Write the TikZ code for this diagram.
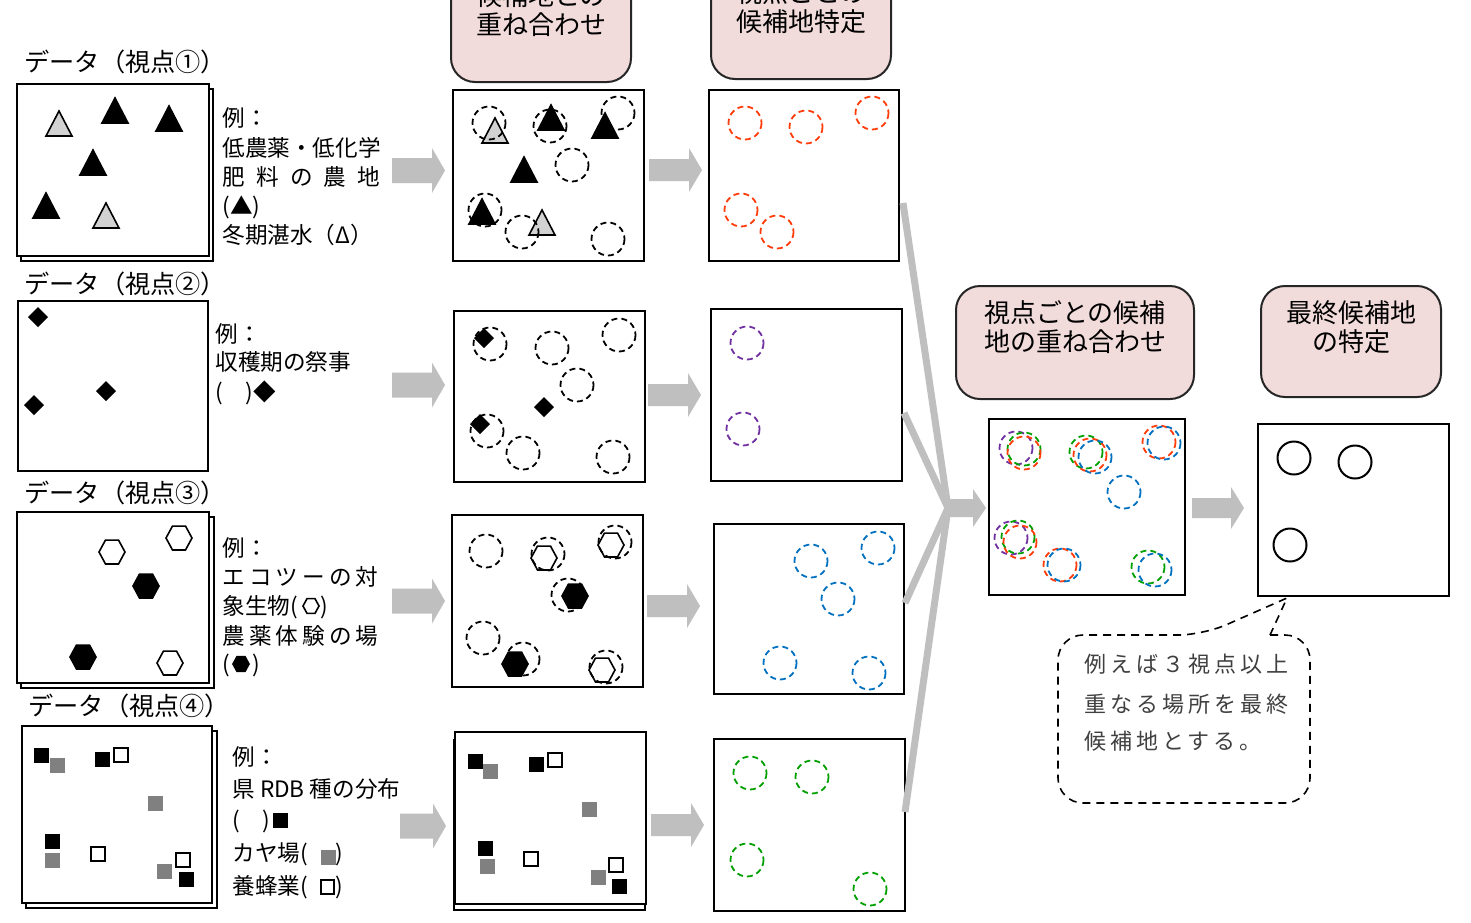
\documentclass[tikz,border=0pt]{standalone}
\usepackage{fontspec}
\setmainfont{Noto Sans CJK JP}
\newfontfamily\calloutfont[LetterSpace=18]{Noto Sans CJK JP}
\usetikzlibrary{shapes.geometric}
\definecolor{arrowgray}{RGB}{191,191,191}
\definecolor{hdrpink}{RGB}{242,220,219}
\definecolor{cred}{RGB}{255,60,10}
\definecolor{cpurple}{RGB}{112,48,160}
\definecolor{cblue}{RGB}{0,112,192}
\definecolor{cgreen}{RGB}{0,160,0}
\definecolor{lgray}{RGB}{210,210,210}
\definecolor{mgray}{RGB}{128,128,128}
\definecolor{ctext}{RGB}{64,64,64}
\tikzset{
  mapframe/.style={draw=black, line width=1pt, fill=white, inner sep=0pt, outer sep=0pt},
  hdrframe/.style={draw=black!85, line width=1pt, fill=hdrpink, rounded corners=12pt, inner sep=0pt, outer sep=0pt},
  txt/.style={anchor=west, inner sep=0pt, text height=10pt, text depth=1.3pt, font=\fontsize{11.3}{13}\selectfont},
  ttl/.style={anchor=west, inner sep=0pt, text height=11pt, text depth=1.5pt, font=\fontsize{12.6}{14}\selectfont},
  hdrtxt/.style={align=center, inner sep=0pt, font=\fontsize{13}{14.5}\selectfont},
  ctxt/.style={anchor=west, inner sep=0pt, text height=9.6pt, text depth=1.3pt, text=ctext, font=\calloutfont\fontsize{11}{12}\selectfont},
  dc/.style={dash pattern=on 3pt off 2pt, line width=0.9pt},
  convline/.style={draw=arrowgray, line width=3.5pt},
  callout/.style={draw=black, line width=0.8pt, dash pattern=on 4pt off 3pt},
}
\newcommand\mapbox[5]{\node[mapframe, minimum width={(#4-#2)*0.5pt}, minimum height={(#5-#3)*0.5pt}] (#1) at ({(#2+#4)/2},{(#3+#5)/2}) {};}
\newcommand\hdrbox[5]{\node[hdrframe, minimum width={(#4-#2)*0.5pt}, minimum height={(#5-#3)*0.5pt}] (#1) at ({(#2+#4)/2},{(#3+#5)/2}) {};}
\newcommand\tri[3]{\filldraw[fill=#3, draw=black, line width=0.8pt] (#1-13,#2+12) -- (#1+13,#2+12) -- (#1,#2-13) -- cycle;}
\newcommand\dia[2]{\fill[black] (#1,#2-10) -- (#1+10,#2) -- (#1,#2+10) -- (#1-10,#2) -- cycle;}
\newcommand\hexa[4]{\filldraw[fill=#3, draw=black, line width=0.8pt] (#1-#4,#2) -- (#1-#4/2,#2-#4*0.92) -- (#1+#4/2,#2-#4*0.92) -- (#1+#4,#2) -- (#1+#4/2,#2+#4*0.92) -- (#1-#4/2,#2+#4*0.92) -- cycle;}
\newcommand\sqf[3]{\fill[#3] (#1-7.5,#2-7.5) rectangle (#1+7.5,#2+7.5);}
\newcommand\sqw[2]{\filldraw[fill=white, draw=black, line width=1pt] (#1-7,#2-7) rectangle (#1+7,#2+7);}
\newcommand\dcirc[3]{\draw[dc, #3] (#1,#2) circle[radius=16.5];}
\newcommand\barrow[6]{\fill[arrowgray] (#1,#2-#5) -- (#1+#3,#2-#5) -- (#1+#3,#2-#6) -- (#1+#3+#4,#2) -- (#1+#3,#2+#6) -- (#1+#3,#2+#5) -- (#1,#2+#5) -- cycle;}
\begin{document}
\begin{tikzpicture}[x=0.5pt, y=-0.5pt]
\useasboundingbox (0,0) rectangle (1471,922);
\clip (0,0) rectangle (1471,922);
\fill[white] (0,0) rectangle (1471,922);

% ---------- headers ----------
\hdrbox{h1}{451}{-31}{631}{82}
\hdrbox{h2}{711}{-34}{891}{79}
\hdrbox{h3}{956}{286}{1194}{399}
\hdrbox{h4}{1261}{286}{1441}{397}
\node[hdrtxt] (h1t) at (541,10.5) {候補地との\\重ね合わせ};
\node[hdrtxt] (h2t) at (801,7) {視点ごとの\\候補地特定};
\node[hdrtxt] (h3t) at (1075,327.5) {視点ごとの候補\\地の重ね合わせ};
\node[hdrtxt] (h4t) at (1351,327) {最終候補地\\の特定};

% ---------- titles ----------
\node[ttl] (t1) at (24,62) {データ（視点①）};
\node[ttl] (t2) at (24,284) {データ（視点②）};
\node[ttl] (t3) at (24,493) {データ（視点③）};
\node[ttl] (t4) at (28,706) {データ（視点④）};

% ---------- data boxes ----------
\mapbox{d1s}{21}{89}{213}{261}
\mapbox{d1}{17}{84}{209}{256}
\mapbox{d2}{18}{301}{208}{471}
\mapbox{d3s}{21}{517}{214}{688}
\mapbox{d3}{17}{512}{209}{683}
\mapbox{d4s}{26}{731}{217}{908}
\mapbox{d4}{22}{726}{212}{903}

% data 1 triangles
\tri{59}{124}{lgray}
\tri{106}{216}{lgray}
\tri{115}{111}{black}
\tri{169}{119}{black}
\tri{93}{163}{black}
\tri{46}{206}{black}
% data 2 diamonds
\dia{38}{317}
\dia{34}{405}
\dia{106}{391}
% data 3 hexagons
\hexa{112}{552}{white}{13}
\hexa{179}{538}{white}{13}
\hexa{146}{586}{black}{13}
\hexa{83}{657}{black}{13}
\hexa{170}{663}{white}{13}
% data 4 squares
\sqf{41}{755}{black}
\sqf{57}{765}{mgray}
\sqf{102}{759}{black}
\sqw{121}{755}
\sqf{155}{803}{mgray}
\sqf{52}{841}{black}
\sqf{52}{860}{mgray}
\sqw{98}{854}
\sqw{183}{860}
\sqf{164}{871}{mgray}
\sqf{186}{879}{black}

% ---------- example texts ----------
\node[txt] (e1a) at (222,118) {例：};
\node[txt] (e1b) at (222,148) {低農薬・低化学};
\node[txt] (e1c) at (222,177) {\makebox[79pt][s]{肥\hfill 料\hfill の\hfill 農\hfill 地}};
\node[txt] (e1d) at (222,206) {(▲)};
\node[txt] (e1e) at (222,235) {冬期湛水（Δ）};

\node[txt] (e2a) at (215,334) {例：};
\node[txt] (e2b) at (215,362) {収穫期の祭事};
\node[txt] (e2c) at (215,392) {(　)◆};

\node[txt] (e3a) at (222,548) {例：};
\node[txt] (e3b) at (222,577) {\makebox[78pt][s]{エ\hfill コ\hfill ツ\hfill ー\hfill の\hfill 対}};
\node[txt] (e3c) at (222,606) {象生物(　)};
\node[txt] (e3d) at (222,636) {\makebox[78pt][s]{農\hfill 薬\hfill 体\hfill 験\hfill の\hfill 場}};
\node[txt] (e3e) at (222,664) {(　)};
\hexa{311}{606}{white}{8}
\hexa{241}{664}{black}{8}

\node[txt] (e4a) at (232,757) {例：};
\node[txt] (e4b) at (232,789) {県 RDB 種の分布};
\node[txt] (e4c) at (232,820) {(　)};
\node[txt] (e4d) at (232,853) {カヤ場(\hspace{14pt})};
\node[txt] (e4e) at (232,886) {養蜂業(\hspace{14pt})};
\sqf{280}{820}{black}
\sqf{328}{857}{mgray}
\filldraw[fill=white, draw=black, line width=1pt] (321,880) rectangle (334,894);

% ---------- overlay boxes ----------
\mapbox{o1}{453}{90}{644}{261}
\mapbox{o2}{454}{311}{645}{482}
\mapbox{o3}{452}{515}{643}{687}
\mapbox{o4s}{454}{740}{645}{910}
\mapbox{o4}{455}{732}{646}{904}

% overlay 1
\tri{495}{131}{lgray}
\tri{551}{118}{black}
\tri{605}{126}{black}
\tri{524}{170}{black}
\tri{482}{212}{black}
\tri{542}{223}{lgray}
\dcirc{489}{123}{black}
\dcirc{550}{126}{black}
\dcirc{618}{113}{black}
\dcirc{572}{165}{black}
\dcirc{485}{210}{black}
\dcirc{522}{232}{black}
\dcirc{608}{239}{black}
% overlay 2
\dia{484}{338}
\dia{544}{407}
\dia{480}{424}
\dcirc{490}{344}{black}
\dcirc{552}{348}{black}
\dcirc{619}{335}{black}
\dcirc{577}{385}{black}
\dcirc{487}{431}{black}
\dcirc{523}{453}{black}
\dcirc{613}{457}{black}
% overlay 3
\hexa{544}{558}{white}{13}
\hexa{611}{545}{white}{13}
\hexa{575}{596}{black}{13}
\hexa{515}{664}{black}{13}
\hexa{602}{670}{white}{13}
\dcirc{548}{554}{black}
\dcirc{615}{542}{black}
\dcirc{568}{595}{black}
\dcirc{486}{551}{black}
\dcirc{483}{638}{black}
\dcirc{523}{659}{black}
\dcirc{606}{667}{black}
% overlay 4
\sqf{475}{761}{black}
\sqf{490}{771}{mgray}
\sqf{536}{764}{black}
\sqw{555}{760}
\sqf{589}{809}{mgray}
\sqf{485}{848}{black}
\sqf{487}{866}{mgray}
\sqw{531}{859}
\sqw{616}{865}
\sqf{598}{877}{mgray}
\sqf{619}{886}{black}

% ---------- candidate boxes ----------
\mapbox{c1}{709}{90}{899}{261}
\mapbox{c2}{711}{309}{902}{481}
\mapbox{c3}{714}{524}{904}{694}
\mapbox{c4}{714}{739}{905}{911}
\dcirc{745}{123}{cred}
\dcirc{806}{127}{cred}
\dcirc{872}{113}{cred}
\dcirc{741}{210}{cred}
\dcirc{777}{232}{cred}
\dcirc{747}{343}{cpurple}
\dcirc{743}{429}{cpurple}
\dcirc{811}{561}{cblue}
\dcirc{878}{548}{cblue}
\dcirc{838}{599}{cblue}
\dcirc{780}{663}{cblue}
\dcirc{869}{673}{cblue}
\dcirc{750}{773}{cgreen}
\dcirc{812}{777}{cgreen}
\dcirc{747}{860}{cgreen}
\dcirc{870}{889}{cgreen}

% ---------- combined box ----------
\mapbox{cb}{989}{419}{1185}{595}
\dcirc{1016}{448}{cpurple}
\dcirc{1024}{449}{cgreen}
\dcirc{1024}{453}{cred}
\dcirc{1086}{452}{cgreen}
\dcirc{1090}{455}{cred}
\dcirc{1095}{457}{cblue}
\dcirc{1159}{442}{cred}
\dcirc{1164}{443}{cblue}
\dcirc{1124}{492}{cblue}
\dcirc{1011}{538}{cpurple}
\dcirc{1018}{537}{cgreen}
\dcirc{1020}{542}{cred}
\dcirc{1060}{565}{cred}
\dcirc{1064}{565}{cblue}
\dcirc{1148}{567}{cgreen}
\dcirc{1155}{570}{cblue}

% ---------- final box ----------
\mapbox{fb}{1258}{424}{1449}{596}
\draw[line width=1pt] (1294,458) circle[radius=16.5];
\draw[line width=1pt] (1355,462) circle[radius=16.5];
\draw[line width=1pt] (1290,545) circle[radius=16.5];

% ---------- block arrows ----------
\barrow{392}{170.5}{40}{13}{12.5}{22.5}
\barrow{392}{385}{40}{13}{12.5}{22.5}
\barrow{392}{601}{40}{13}{12.5}{22.5}
\barrow{400}{826}{33}{13}{12.5}{22.5}
\barrow{649}{170}{40}{13}{11}{22}
\barrow{648}{395}{40}{13}{11}{22}
\barrow{647}{606}{40}{13}{11}{22}
\barrow{651}{825}{40}{13}{11}{22}
\barrow{1192}{508}{39}{13}{10}{21}

% ---------- converging lines ----------
\coordinate (j) at (948,508);
\coordinate (k1) at (903,203);
\coordinate (k2) at (904,413);
\coordinate (k3) at (905,603);
\coordinate (k4) at (905,812);
\draw[convline] (k1) -- (j);
\draw[convline] (k2) -- (j);
\draw[convline] (k3) -- (j);
\draw[convline] (k4) -- (j);
\barrow{945}{508}{28}{13}{9}{19}

% ---------- callout ----------
\draw[callout] (1270,635) [rounded corners=12.5pt] -- (1310,635) -- (1310,803) -- (1058,803) -- (1058,635) -- (1203,635) [sharp corners] -- (1287,598) -- cycle;
\node[ctxt] (n1) at (1084,664) {例えば３視点以上};
\node[ctxt] (n2) at (1084,704) {重なる場所を最終};
\node[ctxt] (n3) at (1084,741) {候補地とする。};
\end{tikzpicture}
\end{document}
